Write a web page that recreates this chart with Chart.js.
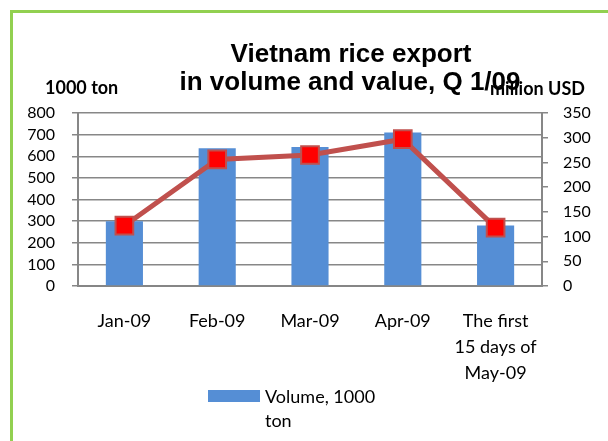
<!DOCTYPE html>
<html>
<head>
<meta charset="utf-8">
<script src="https://cdn.jsdelivr.net/npm/chart.js@4.4.1/dist/chart.umd.min.js"></script>
<style>
  body { margin: 0; background: #fff; overflow: hidden; }
  #frame { position: absolute; left: 10px; top: 10px; width: 700px; height: 500px; border: 3px solid #92D050; }
  #myChart { position: absolute; left: 0; top: 0; }
  #legend-container { position: absolute; left: 208px; top: 384px; font: 18px Lato; line-height: 24px; color: #000; }
  #legend-container .item { display: flex; align-items: flex-start; }
  #legend-container .box { width: 52px; height: 12px; margin-top: 6px; margin-right: 5px; }
  #legend-container .txt { width: 135px; }
</style>
</head>
<body>
<div id="frame"></div>
<canvas id="myChart" width="608" height="441"></canvas>
<div id="legend-container"></div>
<script>
const xValues = ['Jan-09', 'Feb-09', 'Mar-09', 'Apr-09', ['The first', '15 days of', 'May-09']];
const volume = [300, 637, 643, 710, 280];   // 1000 ton
const value = [122, 256, 265, 297, 118];    // million USD
const leftTicks = [0, 800, 100];
const rightTicks = [0, 350, 50];
const titleLines = ['Vietnam rice export', 'in volume and value, Q 1/09'];

// titles are placed like the Excel original, not centered on the canvas
const titlePlugin = {
  id: 'titles',
  afterDraw(chart) {
    const ctx = chart.ctx;
    ctx.save();
    ctx.fillStyle = '#000';
    ctx.textAlign = 'center';
    ctx.textBaseline = 'alphabetic';
    ctx.font = 'bold 26px "Liberation Sans"';
    ctx.fillText(titleLines[0], 351, 62);
    ctx.fillText(titleLines[1], 350, 90);
    ctx.font = 'bold 18px Lato';
    ctx.textAlign = 'left';
    ctx.fillText('1000 ton', 45, 94);
    ctx.fillText('million USD', 490, 95);
    ctx.restore();
  }
};

// only the volume series shows in the legend
const htmlLegendPlugin = {
  id: 'htmlLegend',
  afterUpdate(chart) {
    const box = document.getElementById('legend-container');
    box.innerHTML = '';
    const ds = chart.data.datasets[0];
    const item = document.createElement('div');
    item.className = 'item';
    const sw = document.createElement('span');
    sw.className = 'box';
    sw.style.background = ds.backgroundColor;
    const txt = document.createElement('span');
    txt.className = 'txt';
    txt.textContent = ds.label;
    item.appendChild(sw);
    item.appendChild(txt);
    box.appendChild(item);
  }
};

new Chart('myChart', {
  type: 'bar',
  data: {
    labels: xValues,
    datasets: [{
      label: 'Volume, 1000 ton',
      data: volume,
      backgroundColor: '#558ED5',
      yAxisID: 'y',
      barPercentage: 0.4,
      categoryPercentage: 1,
      order: 2
    }, {
      type: 'line',
      label: 'Value, million USD',
      data: value,
      yAxisID: 'y1',
      borderColor: '#C0504D',
      borderWidth: 5,
      pointStyle: 'rect',
      pointRadius: 12.5,
      pointBackgroundColor: '#FF0000',
      pointBorderColor: '#C0504D',
      pointBorderWidth: 2,
      lineTension: 0,
      order: 1
    }]
  },
  plugins: [titlePlugin, htmlLegendPlugin],
  options: {
    responsive: false,
    animation: false,
    layout: { padding: { top: 113, bottom: 55, left: 0, right: 0 } },
    plugins: {
      legend: { display: false },
      tooltip: { enabled: false },
      title: { display: false }
    },
    scales: {
      x: {
        grid: { display: false, drawTicks: false },
        border: { display: true, color: '#868686', width: 2 },
        ticks: {
          color: '#000',
          padding: 22,
          maxRotation: 0,
          autoSkip: false,
          font: { family: 'Lato', size: 18, lineHeight: 1.45 }
        },
        afterFit: s => { s.height = 100; }
      },
      y: {
        position: 'left',
        min: leftTicks[0],
        max: leftTicks[1],
        ticks: {
          stepSize: leftTicks[2],
          autoSkip: false,
          color: '#000',
          padding: 17,
          font: { family: 'Lato', size: 16 }
        },
        grid: { color: '#878787', lineWidth: 1.5, tickLength: 6 },
        border: { color: '#878787', width: 2 },
        afterFit: s => { s.width = 78; }
      },
      y1: {
        position: 'right',
        min: rightTicks[0],
        max: rightTicks[1],
        ticks: {
          stepSize: rightTicks[2],
          autoSkip: false,
          color: '#000',
          padding: 15,
          font: { family: 'Lato', size: 16 }
        },
        grid: { drawOnChartArea: false, color: '#878787', lineWidth: 1.5, tickLength: 6 },
        border: { color: '#878787', width: 2 },
        afterFit: s => { s.width = 66; }
      }
    }
  }
});
</script>
</body>
</html>
